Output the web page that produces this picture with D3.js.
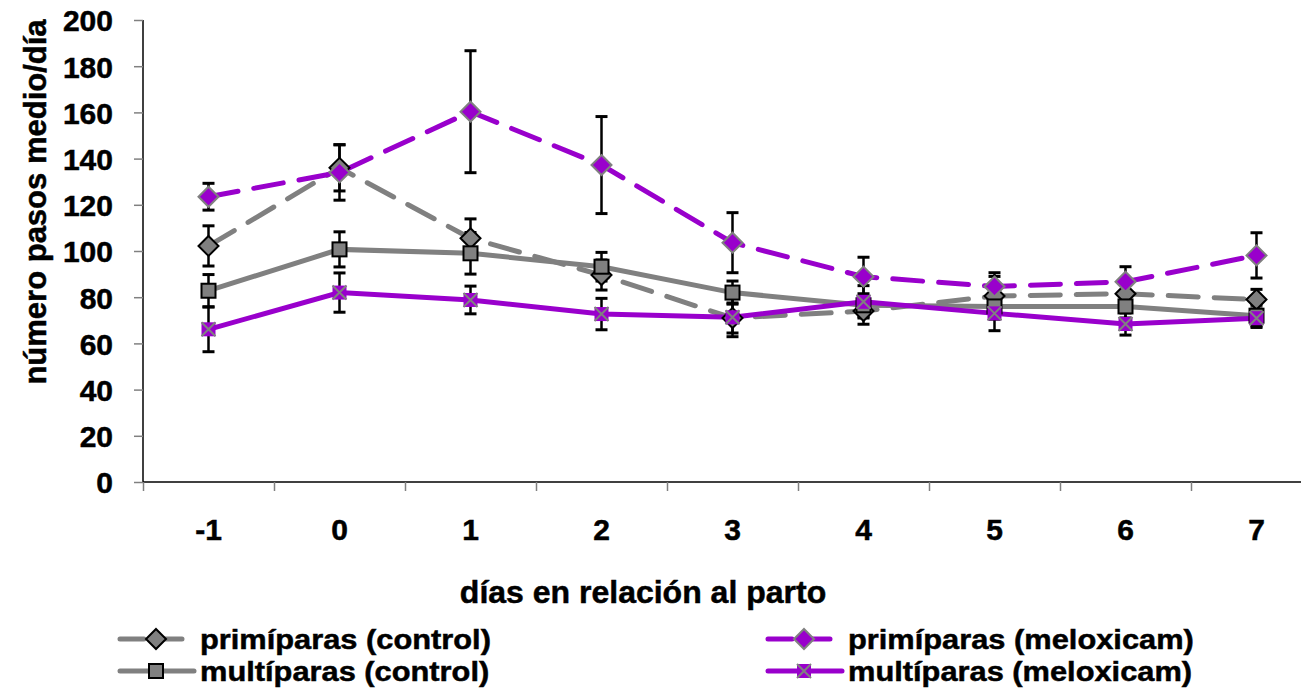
<!DOCTYPE html>
<html>
<head>
<meta charset="utf-8">
<script src="https://cdn.jsdelivr.net/npm/d3@7"></script>
<style>
  body { margin: 0; background: #fff; }
  text { font-family: "Liberation Sans", Arial, sans-serif; font-weight: bold; fill: #000; stroke: #000; stroke-width: 0.5px; }
</style>
</head>
<body>
<div class="plot"></div>
<script>
// dias en relacion al parto
var dias = ['-1','0','1','2','3','4','5','6','7'];

var primiControl     = [102.2, 136, 105.5, 89.6, 71, 74, 80.5, 81.5, 79];
var primiControlErr  = [8.7, 10, 8.4, 6.5, 6.5, 5.7, 8.5, 6, 4.4];
var multiControl     = [82.8, 100.7, 99, 93.2, 82, 76.5, 76, 76, 72];
var multiControlErr  = [7, 7.6, 9, 6.2, 5, 5, 5.5, 5, 4.5];
var primiMeloxicam   = [123.5, 134, 160.3, 137.2, 103.6, 88.9, 84.6, 86.7, 98.1];
var primiMeloxErr    = [5.8, 12, 26.4, 21, 13, 8.4, 6, 6.5, 9.8];
var multiMeloxicam   = [66.1, 82, 78.8, 72.7, 71.3, 78, 73, 68.4, 70.9];
var multiMeloxErr    = [9.7, 8.5, 6, 6.8, 8.4, 7, 7.5, 4.8, 4];

var yTicks = [0,20,40,60,80,100,120,140,160,180,200];

var gray = '#808080', purple = '#9900cc';

var series = [
    {name:'primíparas (control)', vals:primiControl, err:primiControlErr, color:gray, dash:'30,16', marker:'diamond', fill:gray, stroke:'#000'},
    {name:'multíparas (control)', vals:multiControl, err:multiControlErr, color:gray, dash:null, marker:'square', fill:gray, stroke:'#000'},
    {name:'primíparas (meloxicam)', vals:primiMeloxicam, err:primiMeloxErr, color:purple, dash:'30,16', marker:'diamond', fill:purple, stroke:gray},
    {name:'multíparas (meloxicam)', vals:multiMeloxicam, err:multiMeloxErr, color:purple, dash:null, marker:'cross', fill:purple, stroke:gray}
];

var W = 1301, H = 688;
var x0 = 143, step = 131;

var svg = d3.select('.plot').append('svg')
    .attr('width', W)
    .attr('height', H);

var x = d3.scaleBand().domain(dias).range([x0, x0 + step*dias.length]);
var xEdge = d3.scaleLinear().domain([0, dias.length]).range([x0, x0 + step*dias.length]);
var y = d3.scaleLinear().domain([0, 200]).range([482, 20]);

// y axis
var yAxis = svg.append('g')
    .attr('transform','translate('+x0+',0)')
    .call(d3.axisLeft(y).tickValues(yTicks).tickSize(9).tickPadding(21));
yAxis.select('.domain').attr('stroke','#000').attr('stroke-width',1.5).attr('d','M0,'+y(200)+'V'+y(0));
yAxis.selectAll('.tick line').attr('stroke', gray).attr('stroke-width',1.5);
yAxis.selectAll('.tick text').style('font-size','30px').attr('dy','0.36em');

// x axis: boundary ticks
var xTickAx = svg.append('g')
    .attr('transform','translate(0,'+y(0)+')')
    .call(d3.axisBottom(xEdge).tickValues(d3.range(0, dias.length+1)).tickSize(9).tickFormat(''));
xTickAx.select('.domain').attr('stroke','#000').attr('stroke-width',1.5).attr('d','M'+x0+',0H'+W);
xTickAx.selectAll('.tick line').attr('stroke', gray).attr('stroke-width',1.5);

// x axis labels
var xLab = svg.append('g')
    .attr('transform','translate(0,'+y(0)+')')
    .call(d3.axisBottom(x).tickSize(0).tickPadding(37));
xLab.select('.domain').remove();
xLab.selectAll('.tick text').style('font-size','30px');

// axis titles
svg.append('text')
    .attr('transform','translate(35,202) rotate(-90)')
    .attr('text-anchor','middle')
    .attr('dominant-baseline','central')
    .style('font-size','31px')
    .text('número pasos medio/día');

svg.append('text')
    .attr('x',643).attr('y',592)
    .attr('text-anchor','middle')
    .attr('dominant-baseline','central')
    .style('font-size','32px')
    .text('días en relación al parto');

var line = d3.line()
    .x(function(d,i){ return x(dias[i]) + x.bandwidth()/2; })
    .y(function(d){ return y(d); });

function cx(i){ return x(dias[i]) + x.bandwidth()/2; }

function drawMarker(g, s, px, py){
    if (s.marker == 'diamond') {
        g.append('path')
            .attr('d','M'+px+','+(py-10)+'L'+(px+10)+','+py+'L'+px+','+(py+10)+'L'+(px-10)+','+py+'Z')
            .attr('fill', s.fill).attr('stroke', s.stroke).attr('stroke-width',2);
    } else if (s.marker == 'square') {
        g.append('rect')
            .attr('x',px-7).attr('y',py-7).attr('width',14).attr('height',14)
            .attr('fill', s.fill).attr('stroke', s.stroke).attr('stroke-width',2);
    } else {
        g.append('rect')
            .attr('x',px-7).attr('y',py-7).attr('width',14).attr('height',14)
            .attr('fill', s.fill);
        g.append('path')
            .attr('d','M'+(px-7)+','+(py-7)+'L'+(px+7)+','+(py+7)+'M'+(px+7)+','+(py-7)+'L'+(px-7)+','+(py+7))
            .attr('stroke', gray).attr('stroke-width',2).attr('fill','none');
    }
}

var plot = svg.append('g');

// lines
series.forEach(function(s){
    plot.append('path')
        .datum(s.vals)
        .attr('d', line)
        .attr('fill','none')
        .attr('stroke', s.color)
        .attr('stroke-width',5)
        .attr('stroke-linecap','round')
        .attr('stroke-dasharray', s.dash);
});

// error bars
series.forEach(function(s){
    var eb = plot.append('g').selectAll('g')
        .data(s.vals)
        .enter()
        .append('g');
    eb.append('line')
        .attr('x1',function(d,i){return cx(i)}).attr('x2',function(d,i){return cx(i)})
        .attr('y1',function(d,i){return y(d + s.err[i])})
        .attr('y2',function(d,i){return y(d - s.err[i])})
        .attr('stroke','#000').attr('stroke-width',2.5);
    eb.append('line')
        .attr('x1',function(d,i){return cx(i)-6}).attr('x2',function(d,i){return cx(i)+6})
        .attr('y1',function(d,i){return y(d + s.err[i])}).attr('y2',function(d,i){return y(d + s.err[i])})
        .attr('stroke','#000').attr('stroke-width',3);
    eb.append('line')
        .attr('x1',function(d,i){return cx(i)-6}).attr('x2',function(d,i){return cx(i)+6})
        .attr('y1',function(d,i){return y(d - s.err[i])}).attr('y2',function(d,i){return y(d - s.err[i])})
        .attr('stroke','#000').attr('stroke-width',3);
});

// markers
series.forEach(function(s){
    var mg = plot.append('g');
    s.vals.forEach(function(d,i){
        drawMarker(mg, s, cx(i), y(d));
    });
});

// legend
var legendPos = [
    {x:120, y:639}, {x:120, y:671}, {x:768, y:639}, {x:768, y:671}
];
series.forEach(function(s,i){
    var p = legendPos[i];
    var lg = svg.append('g').attr('class','legend');
    lg.append('line')
        .attr('x1',p.x).attr('x2',p.x+74)
        .attr('y1',p.y).attr('y2',p.y)
        .attr('stroke', s.color).attr('stroke-width',5)
        .attr('stroke-linecap','round')
        .attr('stroke-dasharray', s.dash ? '24,14' : null);
    drawMarker(lg, s, p.x+36, p.y);
    var t = lg.append('text')
        .attr('x', p.x+80).attr('y', p.y)
        .attr('dominant-baseline','central')
        .style('font-size','28px')
        .text(s.name);
    // reference lettering is a little wider than Liberation at this height
    var len = t.node().getComputedTextLength();
    t.attr('textLength', len*1.1).attr('lengthAdjust','spacingAndGlyphs');
});
</script>
</body>
</html>
